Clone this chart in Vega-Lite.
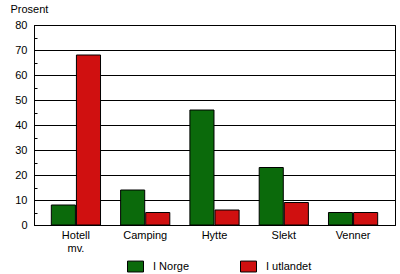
{
  "$schema": "https://vega.github.io/schema/vega-lite/v6.json",
  "width": 361,
  "height": 200,
  "autosize": {"type": "none"},
  "padding": {"left": 34, "top": 25, "right": 5, "bottom": 49},
  "background": "white",
  "config": {
    "font": "Liberation Sans",
    "view": {"stroke": "black", "strokeWidth": 1},
    "axis": {"labelColor": "black", "labelFontSize": 11, "titleColor": "black", "titleFontWeight": "normal", "titleFontSize": 11, "domainColor": "black", "tickColor": "black"},
    "legend": {"labelColor": "black", "labelFontSize": 11}
  },
  "data": {
    "values": [
      {"kategori": "Hotell mv.", "sted": "I Norge", "prosent": 8},
      {"kategori": "Hotell mv.", "sted": "I utlandet", "prosent": 68},
      {"kategori": "Camping", "sted": "I Norge", "prosent": 14},
      {"kategori": "Camping", "sted": "I utlandet", "prosent": 5},
      {"kategori": "Hytte", "sted": "I Norge", "prosent": 46},
      {"kategori": "Hytte", "sted": "I utlandet", "prosent": 6},
      {"kategori": "Slekt", "sted": "I Norge", "prosent": 23},
      {"kategori": "Slekt", "sted": "I utlandet", "prosent": 9},
      {"kategori": "Venner", "sted": "I Norge", "prosent": 5},
      {"kategori": "Venner", "sted": "I utlandet", "prosent": 5}
    ]
  },
  "mark": {"type": "bar", "stroke": "black", "strokeWidth": 1},
  "encoding": {
    "x": {
      "field": "kategori", "type": "nominal", "sort": null,
      "scale": {"paddingInner": 0.29, "paddingOuter": 0.25},
      "axis": {"title": null, "labelAngle": 0, "ticks": false, "grid": false, "labelPadding": 4,
               "labelExpr": "datum.value == 'Hotell mv.' ? ['Hotell', 'mv.'] : datum.value", "labelLineHeight": 13}
    },
    "xOffset": {"field": "sted", "type": "nominal", "scale": {"paddingInner": 0.04}},
    "y": {
      "field": "prosent", "type": "quantitative",
      "scale": {"domain": [0, 80], "nice": false},
      "axis": {
        "title": "Prosent", "titleAngle": 0, "titleAlign": "left", "titleBaseline": "alphabetic",
        "titleX": -24, "titleY": -13,
        "values": [0, 5, 10, 15, 20, 25, 30, 35, 40, 45, 50, 55, 60, 65, 70, 75, 80],
        "labelExpr": "datum.value % 10 == 0 ? datum.value : ''",
        "grid": true, "gridColor": "black", "gridWidth": 1,
        "gridOpacity": {"condition": {"test": "datum.value % 10 != 0", "value": 0}, "value": 1},
        "tickSize": -3, "labelPadding": 10, "domain": true
      }
    },
    "fill": {
      "field": "sted", "type": "nominal",
      "scale": {"domain": ["I Norge", "I utlandet"], "range": ["#0b6a0b", "#d01010"]},
      "legend": {"title": null, "orient": "none", "direction": "horizontal", "legendX": 93, "legendY": 233,
                 "symbolType": "M-1,-0.68H1V0.68H-1Z", "symbolSize": 256, "symbolStrokeColor": "black", "symbolStrokeWidth": 1,
                 "labelOffset": 9, "columnPadding": 48}
    }
  }
}
